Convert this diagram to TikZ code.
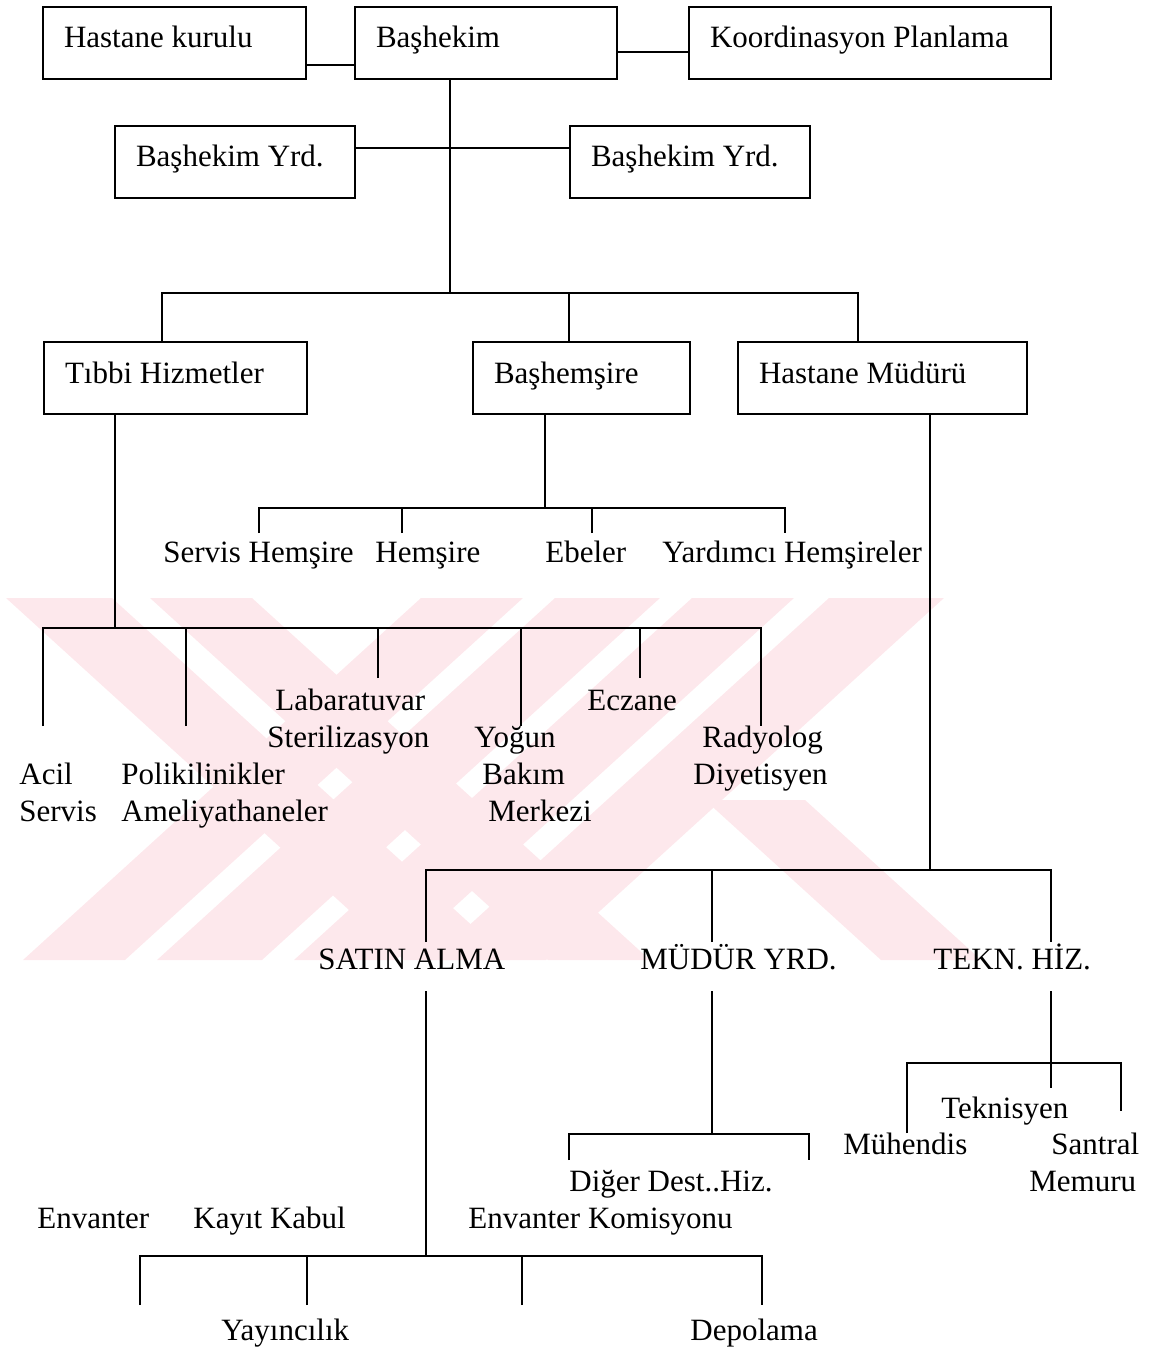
\documentclass[tikz,border=0pt]{standalone}
\usepackage{fontspec}
\setmainfont{Liberation Serif}
\usetikzlibrary{positioning}
\definecolor{wmpink}{RGB}{253,232,236}

\begin{document}
\begin{tikzpicture}[x=0.5pt, y=-0.5pt, font=\fontsize{15.5}{18}\selectfont,
  box/.style={draw, line width=1pt, anchor=north west, inner xsep=10.5pt, inner ysep=0pt,
    text height=20.5pt, text depth=15.5pt, align=flush left},
  lbl/.style={anchor=base west, inner sep=0pt},
  link/.style={line width=1pt}]
  \useasboundingbox (0,0) rectangle (1154,1353);

  % watermark
  \begin{scope}
    \clip (0,598) rectangle (1000,960);
    \foreach \a/\b in {6/112, 150/252}
      \fill [wmpink] (\a,598) -- (\b,598) -- (\b+398,960) -- (\a+398,960) -- cycle;
    \foreach \a/\b in {421/523, 555/660, 692/794, 829/944}
      \fill [wmpink] (\a,598) -- (\b,598) -- (\b-398,960) -- (\a-398,960) -- cycle;
    \fill [wmpink] (705,800) -- (805,800) -- (981,960) -- (881,960) -- cycle;
  \end{scope}

  \node [box, text width=110.5pt] (kurul) at (42,6) {Hastane kurulu};
  \node [box, text width=110pt] (bashekim) at (354,6) {Başhekim};
  \node [box, text width=160pt] (koord) at (688,6) {Koordinasyon Planlama};
  \node [box, text width=99pt] (yrdA) at (114,125) {Başhekim Yrd.};
  \node [box, text width=99pt] (yrdB) at (569,125) {Başhekim Yrd.};
  \node [box, text width=110.5pt] (tibbi) at (43,341) {Tıbbi Hizmetler};
  \node [box, text width=87.5pt] (hemsire) at (472,341) {Başhemşire};
  \node [box, text width=123.5pt] (mudur) at (737,341) {Hastane Müdürü};

  \draw [link] (kurul.east |- 0,65) -- (bashekim.west |- 0,65);
  \draw [link] (bashekim.east |- 0,52) -- (koord.west |- 0,52);
  \draw [link] (yrdA.east |- 0,148) -- (yrdB.west |- 0,148);
  \coordinate (bus1) at (450,293);
  \draw [link] (bashekim.south -| bus1) -- (bus1);
  \draw [link] (tibbi.north -| 162,0) |- (bus1) -| (mudur.north -| 858,0);
  \draw [link] (bus1 -| 569,0) -- (hemsire.north -| 569,0);

  % Başhemşire
  \coordinate (bus2) at (545,508);
  \foreach \n/\x in {sh1/259, sh2/402, sh3/592, sh4/785}
    \coordinate (\n) at (\x,533);
  \draw [link] (hemsire.south -| bus2) -- (bus2);
  \draw [link] (sh1) |- (bus2) -| (sh4);
  \foreach \n in {sh2,sh3} \draw [link] (\n) -- (\n |- bus2);
  \node [lbl] (servis) at (163,562) {Servis Hemşire};
  \node [lbl] (hem) at (375,562) {Hemşire};
  \node [lbl] (ebe) at (545,562) {Ebeler};
  \node [lbl] (yardimci) at (662,562) {Yardımcı Hemşireler};

  % Tıbbi Hizmetler
  \coordinate (bus3) at (115,628);
  \foreach \n/\x/\y in {th1/43/726, th2/186/726, th3/378/678, th4/521/726, th5/640/678, th6/761/726}
    \coordinate (\n) at (\x,\y);
  \draw [link] (tibbi.south -| bus3) -- (bus3);
  \draw [link] (th1) |- (bus3) -| (th6);
  \foreach \n in {th2,th3,th4,th5} \draw [link] (\n) -- (\n |- bus3);
  \node [lbl] (lab) at (275,710) {Labaratuvar};
  \node [lbl] (steril) at (267,747) {Sterilizasyon};
  \node [lbl] (eczane) at (587,710) {Eczane};
  \node [lbl] (yogun) at (474,747) {Yoğun};
  \node [lbl] (bakim) at (482,784) {Bakım};
  \node [lbl] (merkez) at (488,821) {Merkezi};
  \node [lbl] (radyo) at (702,747) {Radyolog};
  \node [lbl] (diyet) at (693,784) {Diyetisyen};
  \node [lbl] (acil) at (19,784) {Acil};
  \node [lbl] (acilB) at (19,821) {Servis};
  \node [lbl] (polik) at (121,784) {Polikilinikler};
  \node [lbl] (ameli) at (121,821) {Ameliyathaneler};

  % Hastane Müdürü
  \coordinate (bus4) at (930,870);
  \foreach \n/\x in {md1/426, md2/712, md3/1051}
    \coordinate (\n) at (\x,942);
  \draw [link] (mudur.south -| bus4) -- (bus4);
  \draw [link] (md1) |- (bus4) -| (md3);
  \draw [link] (md2) -- (md2 |- bus4);
  \node [lbl] (satin) at (318,969) {SATIN ALMA};
  \node [lbl] (myrd) at (640,969) {MÜDÜR YRD.};
  \node [lbl] (tekn) at (933,969) {TEKN. HİZ.};

  % SATIN ALMA
  \coordinate (sat) at (426,991);
  \coordinate (bus5) at (426,1256);
  \foreach \n/\x in {sa1/140, sa2/307, sa3/522, sa4/762}
    \coordinate (\n) at (\x,1305);
  \draw [link] (sat) -- (bus5);
  \draw [link] (sa1) |- (bus5) -| (sa4);
  \foreach \n in {sa2,sa3} \draw [link] (\n) -- (\n |- bus5);
  \node [lbl] (envanter) at (37,1228) {Envanter};
  \node [lbl] (kayit) at (193,1228) {Kayıt Kabul};
  \node [lbl] (komisyon) at (468,1228) {Envanter Komisyonu};
  \node [lbl] (yayin) at (221,1340) {Yayıncılık};
  \node [lbl] (depo) at (690,1340) {Depolama};

  % MÜDÜR YRD.
  \coordinate (my) at (712,991);
  \coordinate (bus6) at (712,1134);
  \coordinate (my1) at (569,1160);
  \coordinate (my2) at (809,1160);
  \draw [link] (my) -- (bus6);
  \draw [link] (my1) |- (bus6) -| (my2);
  \node [lbl] (diger) at (569,1191) {Diğer Dest..Hiz.};

  % TEKN. HİZ.
  \coordinate (tk) at (1051,991);
  \coordinate (tkEnd) at (1051,1088);
  \coordinate (bus7) at (1051,1063);
  \coordinate (tk1) at (907,1133);
  \coordinate (tk2) at (1121,1111);
  \draw [link] (tk) -- (tkEnd);
  \draw [link] (tk1) |- (bus7) -| (tk2);
  \node [lbl] (teknisyen) at (941,1118) {Teknisyen};
  \node [lbl] (muhendis) at (843,1154) {Mühendis};
  \node [lbl] (santral) at (1051,1154) {Santral};
  \node [lbl] (memuru) at (1029,1191) {Memuru};
\end{tikzpicture}
\end{document}
